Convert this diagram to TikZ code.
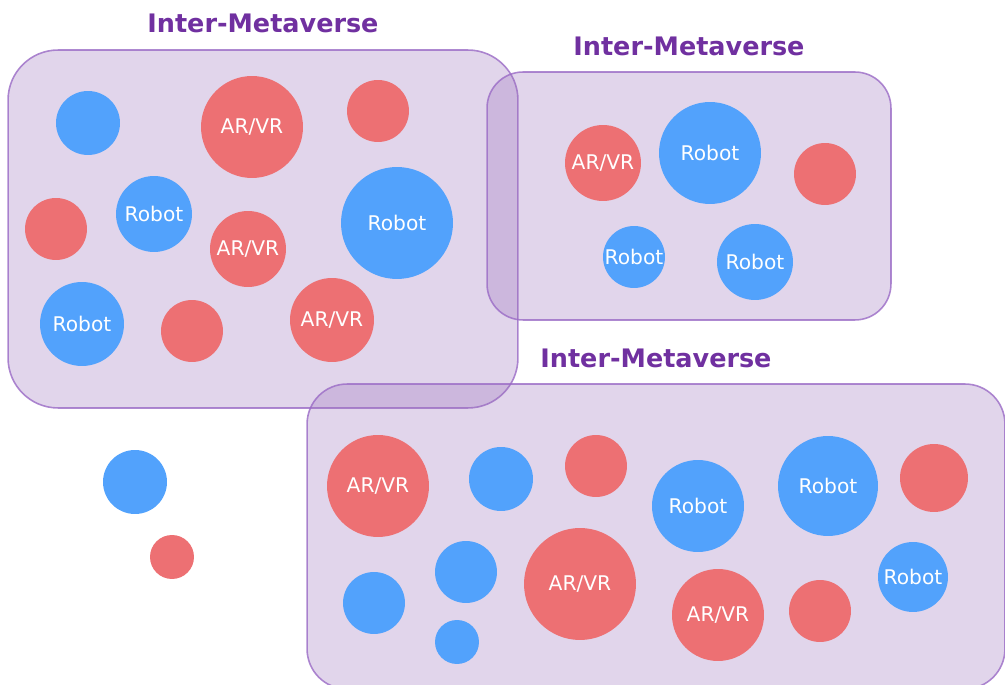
\documentclass[tikz,border=0pt]{standalone}
\usepackage{fontspec}
\setmainfont{DejaVu Sans}
\usetikzlibrary{positioning}
\definecolor{mvfill}{HTML}{9B73BC}
\definecolor{mvline}{HTML}{9A6BC6}
\definecolor{mvtext}{HTML}{7030A0}
\definecolor{arred}{HTML}{ED7073}
\definecolor{robblue}{HTML}{52A2FC}
\tikzset{
  % riquadro di un metaverso (semitrasparente, le sovrapposizioni si scuriscono)
  mvbox/.style={draw=mvline, draw opacity=0.8, line width=0.9pt, fill=mvfill,
    fill opacity=0.3, inner sep=0pt},
  % titolo sopra il riquadro
  mvtitle/.style={font=\fontsize{14.5}{17}\selectfont\bfseries, text=mvtext, inner sep=0pt},
  % dispositivi: #1 = raggio in pixel
  dev/.style={circle, inner sep=0pt, minimum size=#1*0.4mm, text=white,
    font=\fontsize{11.5}{13}\selectfont},
  arvr/.style={dev=#1, fill=arred},
  robot/.style={dev=#1, fill=robblue},
}

\begin{document}
\begin{tikzpicture}[x=0.02cm, y=-0.02cm]
  \useasboundingbox (0,0) rectangle (1005,685);
  % riquadri
  \node[mvbox, minimum width=10.2cm, minimum height=7.16cm, rounded corners=1cm] (mv1) at (263,229) {};
  \node[mvbox, minimum width=8.08cm, minimum height=4.96cm, rounded corners=0.72cm] (mv2) at (689,196) {};
  \node[mvbox, minimum width=13.96cm, minimum height=6.1cm, rounded corners=0.8cm] (mv3) at (656,536.5) {};
  \node[mvtitle, above=3.2mm of mv1] (t1) {Inter-Metaverse};
  \node[mvtitle, above=3mm of mv2] (t2) {Inter-Metaverse};
  \node[mvtitle, above=3mm of mv3] (t3) {Inter-Metaverse};
  % primo metaverso
  \node[robot=32] (m1b1) at (88,123) {};
  \node[arvr=51] (m1a1) at (252,127) {AR/VR};
  \node[arvr=31] (m1a2) at (378,111) {};
  \node[robot=38] (m1b2) at (154,214) {Robot};
  \node[arvr=31] (m1a3) at (56,229) {};
  \node[arvr=38] (m1a4) at (248,249) {AR/VR};
  \node[robot=56] (m1b3) at (397,223) {Robot};
  \node[robot=42] (m1b4) at (82,324) {Robot};
  \node[arvr=31] (m1a5) at (192,331) {};
  \node[arvr=42] (m1a6) at (332,320) {AR/VR};
  % secondo metaverso
  \node[arvr=38] (m2a1) at (603,163) {AR/VR};
  \node[robot=51] (m2b1) at (710,153) {Robot};
  \node[arvr=31] (m2a2) at (825,174) {};
  \node[robot=31] (m2b2) at (634,257) {Robot};
  \node[robot=38] (m2b3) at (755,262) {Robot};
  % terzo metaverso
  \node[arvr=51] (m3a1) at (378,486) {AR/VR};
  \node[robot=32] (m3b1) at (501,479) {};
  \node[arvr=31] (m3a2) at (596,466) {};
  \node[robot=46] (m3b2) at (698,506) {Robot};
  \node[robot=50] (m3b3) at (828,486) {Robot};
  \node[arvr=34] (m3a3) at (934,478) {};
  \node[robot=31] (m3b4) at (374,603) {};
  \node[robot=31] (m3b5) at (466,572) {};
  \node[robot=22] (m3b6) at (457,642) {};
  \node[arvr=56] (m3a4) at (580,584) {AR/VR};
  \node[arvr=46] (m3a5) at (718,615) {AR/VR};
  \node[arvr=31] (m3a6) at (820,611) {};
  \node[robot=35] (m3b7) at (913,577) {Robot};
  % dispositivi isolati
  \node[robot=32] (fb) at (135,482) {};
  \node[arvr=22] (fa) at (172,557) {};
\end{tikzpicture}
\end{document}
